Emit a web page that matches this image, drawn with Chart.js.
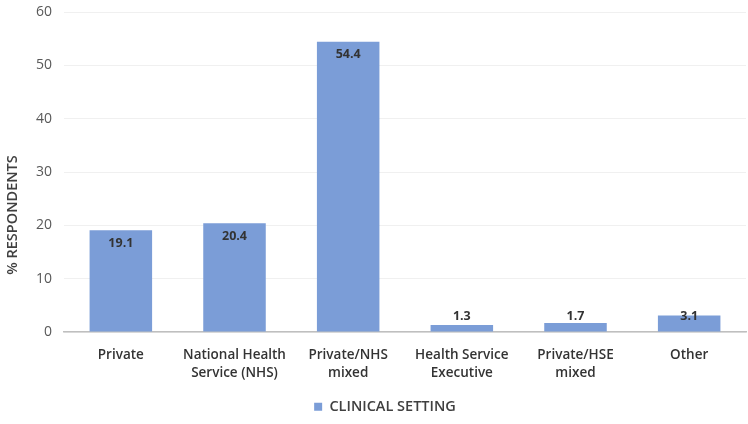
<!DOCTYPE html>
<html>
<head>
<meta charset="utf-8">
<script src="https://cdn.jsdelivr.net/npm/chart.js@4.4.1/dist/chart.umd.min.js"></script>
<style>
  html, body { margin: 0; padding: 0; background: #fff; }
  #wrap { width: 748px; height: 424px; }
</style>
</head>
<body>
<div id="wrap"><canvas id="settingChart" width="748" height="424"></canvas></div>
<script>
// values
const categories = [
  "Private",
  ["National Health", "Service (NHS)"],
  ["Private/NHS", "mixed"],
  ["Health Service", "Executive"],
  ["Private/HSE", "mixed"],
  "Other"
];
const percentValues = [19.1, 20.4, 54.4, 1.3, 1.7, 3.1];
const yTicks = [0, 10, 20, 30, 40, 50, 60];
const yTitle = "% RESPONDENTS";

const FONT = "'Open Sans', sans-serif";

// value labels near the top of each bar, lifted above the axis for short bars
const barLabels = {
  id: "barLabels",
  afterDatasetsDraw(chart) {
    const ctx = chart.ctx;
    const meta = chart.getDatasetMeta(0);
    ctx.save();
    ctx.font = "bold 12.5px " + FONT;
    ctx.fillStyle = "#333";
    ctx.textAlign = "center";
    ctx.textBaseline = "middle";
    meta.data.forEach((bar, i) => {
      const y = Math.min(bar.y + 13, bar.base - 15);
      ctx.fillText(percentValues[i].toFixed(1), bar.x, y);
    });
    ctx.restore();
  }
};

// y title sits a bit below the middle of the axis in the original
const sideTitle = {
  id: "sideTitle",
  afterDraw(chart) {
    const ctx = chart.ctx;
    ctx.save();
    ctx.translate(13, 215);
    ctx.rotate(-Math.PI / 2);
    ctx.font = "600 14.5px " + FONT;
    ctx.fillStyle = "#404040";
    ctx.textAlign = "center";
    ctx.textBaseline = "middle";
    ctx.fillText(yTitle, 0, 0);
    ctx.restore();
  }
};

const ctx = document.getElementById("settingChart").getContext("2d");
new Chart(ctx, {
  type: "bar",
  data: {
    labels: categories,
    datasets: [{
      label: "CLINICAL SETTING",
      data: percentValues,
      backgroundColor: "#7b9dd7",
      borderWidth: 0,
      categoryPercentage: 1,
      barPercentage: 0.55
    }]
  },
  options: {
    responsive: false,
    animation: false,
    layout: { padding: { top: 12, right: 2, left: 24, bottom: 0 } },
    plugins: {
      legend: {
        position: "bottom",
        labels: {
          boxWidth: 8,
          boxHeight: 8,
          padding: 8,
          color: "#404040",
          font: { family: FONT, size: 14.5, weight: "600" }
        }
      },
      tooltip: { enabled: false }
    },
    scales: {
      y: {
        min: 0,
        max: 60,
        afterBuildTicks(axis) { axis.ticks = yTicks.map(v => ({ value: v })); },
        afterFit(scale) { scale.paddingTop = 0; scale.paddingBottom = 0; },
        ticks: {
          color: "#595959",
          padding: 12,
          font: { family: FONT, size: 14 }
        },
        grid: { color: "#f0f0f0", drawTicks: false },
        border: { display: false }
      },
      x: {
        afterFit(scale) { scale.height -= 5; },
        ticks: {
          color: "#333",
          padding: 14,
          maxRotation: 0,
          font: { family: FONT, size: 13.5, weight: "600", lineHeight: 1.35 }
        },
        grid: { display: false, drawTicks: false },
        border: { color: "#bfbfbf", width: 1.5 }
      }
    }
  },
  plugins: [barLabels, sideTitle]
});
</script>
</body>
</html>
